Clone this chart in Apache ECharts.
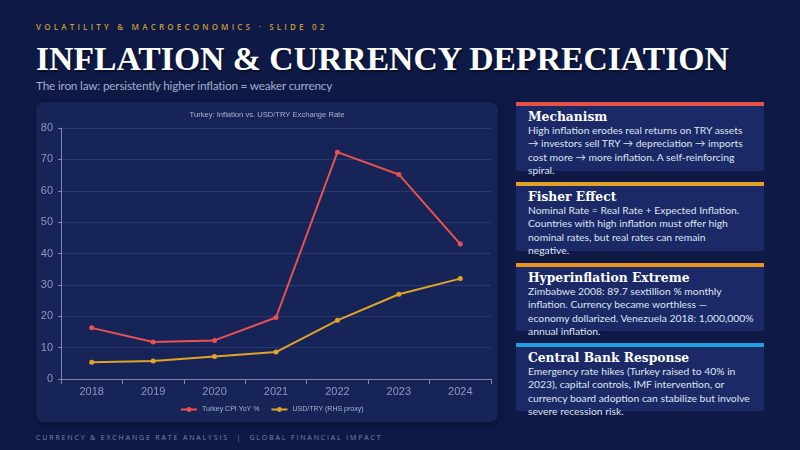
<!DOCTYPE html>
<html>
<head>
<meta charset="utf-8">
<script src="https://cdn.jsdelivr.net/npm/echarts@6/dist/echarts.min.js"></script>
<style>
  html, body { margin: 0; padding: 0; }
  body {
    width: 800px; height: 450px; overflow: hidden; position: relative;
    background: #0e1a45;
    font-family: "Lato", "Open Sans", sans-serif;
  }
  .kicker {
    position: absolute; left: 36px; top: 21px;
    font-family: "Open Sans", sans-serif;
    font-size: 8px; letter-spacing: 3.2px; color: #c99b32; font-weight: 600;
  }
  .title {
    position: absolute; left: 36px; top: 40px;
    font-family: "Liberation Serif", "DejaVu Serif", serif; font-weight: bold;
    font-size: 33.7px; color: #ffffff; white-space: nowrap;
    text-shadow: 1px 2px 2px rgba(0,0,0,0.5);
  }
  .subtitle {
    position: absolute; left: 36px; top: 78px;
    font-size: 11.8px; letter-spacing: -0.2px; color: #a3adcb; white-space: nowrap;
  }
  #chart {
    position: absolute; left: 36px; top: 102px; width: 462px; height: 320px;
    background: #172458; border-radius: 8px;
    box-shadow: 0 2px 6px rgba(0,0,0,0.35);
  }
  .card {
    position: absolute; left: 516px; width: 248px;
    background: #1b2a66; box-sizing: border-box; padding: 3px 0 0 12px;
  }
  .card h3 {
    margin: 0; font-family: "DejaVu Serif", "Liberation Serif", serif;
    font-weight: bold; font-size: 12.3px; color: #ffffff; line-height: 15px;
  }
  .card p {
    margin: 0; font-size: 10.35px; line-height: 13.3px; color: #dfe4f2;
    white-space: nowrap;
  }
  .footer {
    position: absolute; left: 36px; top: 433px;
    font-family: "Open Sans", sans-serif;
    font-size: 7px; letter-spacing: 1.85px; color: #7c88ad;
  }
</style>
</head>
<body>
<div class="kicker">VOLATILITY &amp; MACROECONOMICS · SLIDE 02</div>
<div class="title">INFLATION &amp; CURRENCY DEPRECIATION</div>
<div class="subtitle">The iron law: persistently higher inflation = weaker currency</div>
<div id="chart"></div>

<div class="card" style="top:102px;height:69px;border-top:4px solid #e8514a;">
  <h3>Mechanism</h3>
  <p>High inflation erodes real returns on TRY assets<br>→ investors sell TRY → depreciation → imports<br>cost more → more inflation. A self-reinforcing<br>spiral.</p>
</div>
<div class="card" style="top:182px;height:69px;border-top:4px solid #e0a227;">
  <h3>Fisher Effect</h3>
  <p>Nominal Rate = Real Rate + Expected Inflation.<br>Countries with high inflation must offer high<br>nominal rates, but real rates can remain<br>negative.</p>
</div>
<div class="card" style="top:263px;height:68px;border-top:4px solid #e8941f;">
  <h3>Hyperinflation Extreme</h3>
  <p>Zimbabwe 2008: 89.7 sextillion % monthly<br>inflation. Currency became worthless —<br>economy dollarized. Venezuela 2018: 1,000,000%<br>annual inflation.</p>
</div>
<div class="card" style="top:343px;height:68px;border-top:4px solid #1fa0dc;">
  <h3>Central Bank Response</h3>
  <p>Emergency rate hikes (Turkey raised to 40% in<br>2023), capital controls, IMF intervention, or<br>currency board adoption can stabilize but involve<br>severe recession risk.</p>
</div>

<div class="footer">CURRENCY &amp; EXCHANGE RATE ANALYSIS &nbsp;|&nbsp; GLOBAL FINANCIAL IMPACT</div>

<script>
const years = ["2018", "2019", "2020", "2021", "2022", "2023", "2024"];
const cpiYoY = [16.3, 11.8, 12.3, 19.6, 72.3, 65.2, 43.0];
const usdTry = [5.3, 5.7, 7.2, 8.6, 18.7, 27.0, 32.0];

const axisText = "#8d99c2";

const chart = echarts.init(document.getElementById("chart"));
chart.setOption({
  backgroundColor: "transparent",
  title: {
    text: "Turkey: Inflation vs. USD/TRY Exchange Rate",
    left: "center",
    top: 4,
    textStyle: { color: "#a9b2d0", fontSize: 7.6, fontWeight: "normal", fontFamily: "Liberation Sans" }
  },
  legend: {
    data: ["Turkey CPI YoY %", "USD/TRY (RHS proxy)"],
    bottom: 4,
    left: 139,
    itemWidth: 16,
    itemHeight: 6,
    itemGap: 11,
    textStyle: { color: "#a9b2d0", fontSize: 7, fontFamily: "Liberation Sans" }
  },
  grid: { left: 25, right: 7, top: 26, bottom: 43 },
  xAxis: {
    type: "category",
    data: years,
    axisLine: { lineStyle: { color: "#7d88b0" } },
    axisTick: { show: true, lineStyle: { color: "#7d88b0" } },
    axisLabel: { color: axisText, fontSize: 11, margin: 7, fontFamily: "Liberation Sans" }
  },
  yAxis: {
    type: "value",
    min: 0,
    max: 80,
    interval: 10,
    axisLine: { show: true, lineStyle: { color: "#7d88b0" } },
    axisTick: { show: true, length: 3, lineStyle: { color: "#7d88b0" } },
    axisLabel: { color: axisText, fontSize: 11, margin: 8, fontFamily: "Liberation Sans" },
    splitLine: { lineStyle: { color: "#2a3872", width: 1 } }
  },
  series: [
    {
      name: "Turkey CPI YoY %",
      type: "line",
      data: cpiYoY,
      symbol: "circle",
      symbolSize: 5,
      lineStyle: { width: 2, color: "#ea5150" },
      itemStyle: { color: "#ea5150" }
    },
    {
      name: "USD/TRY (RHS proxy)",
      type: "line",
      data: usdTry,
      symbol: "circle",
      symbolSize: 5,
      lineStyle: { width: 2, color: "#e0a527" },
      itemStyle: { color: "#e0a527" }
    }
  ]
});
</script>
</body>
</html>
